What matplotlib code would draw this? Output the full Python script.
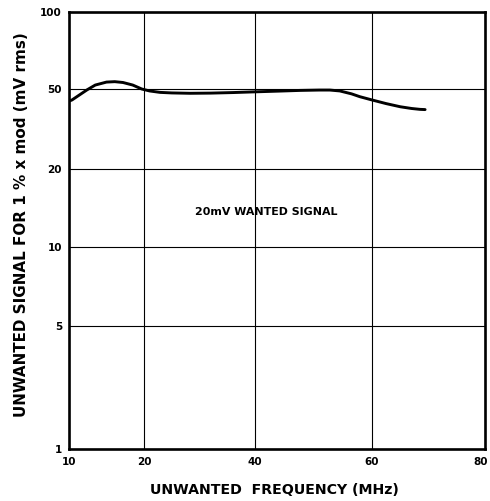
import numpy as np
import matplotlib
matplotlib.use("Agg")
import matplotlib.pyplot as plt
from matplotlib.transforms import ScaledTranslation

# ---- data ----
freq_mhz = [10, 10.4, 11.5, 12.4, 13.5, 15, 16.1, 17.2, 18.5, 19.7, 21, 22.9, 25,
            28.3, 32, 36, 40, 44, 47.7, 51, 52.8, 54.5, 56.5, 57.9, 60, 62.5, 65,
            67, 68.5, 69.4]
signal_mv = [43.5, 44.1, 47.0, 49.5, 51.8, 53.2, 53.4, 53.0, 51.8, 50.0, 48.9, 48.1,
             47.8, 47.6, 47.7, 48.0, 48.4, 48.8, 49.2, 49.4, 49.4, 48.9, 47.3, 45.8,
             44.1, 42.3, 40.8, 40.0, 39.6, 39.5]

x_ticks = [10, 20, 40, 60, 80]
x_tick_labels = ["10", "20", "40", "60", "80"]
y_ticks = [1, 5, 10, 20, 50, 100]
y_tick_labels = ["1", "5", "10", "20", "50", "100"]

x_label = "UNWANTED  FREQUENCY (MHz)"
y_label = "UNWANTED SIGNAL FOR 1 % x mod (mV rms)"
annotation = "20mV WANTED SIGNAL"

# ---- the chart's hand-drawn (non-uniform) axis scales ----
_x_vals = np.array([0, 10, 20, 40, 60, 80, 100], dtype=float)
_x_pos = np.array([-6, 69, 144, 255, 372, 485, 598], dtype=float)
_y_vals = np.log10(np.array([0.1, 1, 5, 10, 20, 50, 100, 1000], dtype=float))
_y_pos = -np.array([572, 449, 326, 247, 169, 89, 11.7, -222], dtype=float)


def x_fwd(v):
    return np.interp(v, _x_vals, _x_pos)


def x_inv(p):
    return np.interp(p, _x_pos, _x_vals)


def y_fwd(v):
    v = np.maximum(np.asarray(v, dtype=float), 1e-6)
    return np.interp(np.log10(v), _y_vals, _y_pos)


def y_inv(p):
    return 10 ** np.interp(p, _y_pos, _y_vals)


plt.rcParams["font.family"] = ["DejaVu Sans"]

fig = plt.figure(figsize=(4.9, 5.01), dpi=100)
W, H = 490, 501
left, right, top, bottom = 69, 485, 11.7, 449
ax = fig.add_axes([left / W, 1 - bottom / H, (right - left) / W, (bottom - top) / H])

ax.set_xscale("function", functions=(x_fwd, x_inv))
ax.set_yscale("function", functions=(y_fwd, y_inv))
ax.set_xlim(10, 80)
ax.set_ylim(1, 100)

ax.set_xticks(x_ticks)
ax.set_xticklabels(x_tick_labels)
ax.set_yticks(y_ticks)
ax.set_yticklabels(y_tick_labels)
ax.minorticks_off()
ax.tick_params(axis="both", length=0, labelsize=7.5, colors="black")
ax.tick_params(axis="x", pad=6)
ax.tick_params(axis="y", pad=5)
for lab in ax.get_xticklabels() + ax.get_yticklabels():
    lab.set_fontweight("bold")
# keep the last x tick label inside the picture
last = ax.xaxis.get_major_ticks()[-1].label1
last.set_transform(last.get_transform() + ScaledTranslation(-4 / 100, 0, fig.dpi_scale_trans))

ax.grid(True, color="black", linewidth=0.8)
ax.set_axisbelow(True)
for s in ax.spines.values():
    s.set_linewidth(1.9)
    s.set_color("black")

ax.plot(freq_mhz, signal_mv, color="black", linewidth=2.1, solid_capstyle="round")

ax.text(29.2, 13.6, annotation, ha="left", va="center", fontsize=7.9,
        fontweight="bold")

fig.text(274 / W, 1 - 490 / H, x_label, ha="center", va="center", fontsize=10.2,
         fontweight="bold")
fig.text(22 / W, 1 - 225 / H, y_label, ha="center", va="center", rotation=90,
         fontsize=10.9, fontweight="bold")

fig.savefig("out.png", dpi=100, facecolor="white")
